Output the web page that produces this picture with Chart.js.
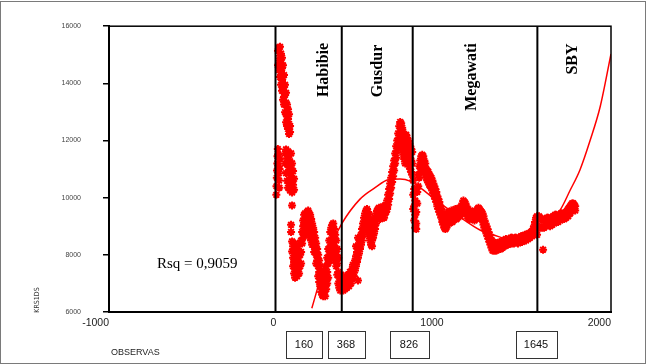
<!DOCTYPE html>
<html>
<head>
<meta charset="utf-8">
<script src="https://cdn.jsdelivr.net/npm/chart.js@4/dist/chart.umd.min.js"></script>
<style>
  html, body { margin: 0; padding: 0; background: #fff; }
  #wrap { position: relative; width: 650px; height: 364px; }
  #frame { position: absolute; left: 0; top: 1px; width: 646px; height: 363px; border: 1px solid #7a7a7a; box-sizing: border-box; pointer-events: none; }
  canvas { position: absolute; left: 0; top: 0; }
</style>
</head>
<body>
<div id="wrap"><canvas id="c" width="650" height="364"></canvas><div id="frame"></div></div>
<script>
// --- data ---
const xTicks = [-1000, 0, 1000, 2000];
const yTicks = [6000, 8000, 10000, 12000, 14000, 16000];

// borders between the presidencies (observation number)
const periodBounds = [-5, 391, 815, 1560];
const periodNames = ['Habibie', 'Gusdur', 'Megawati', 'SBY'];
const boxLabels = ['160', '368', '826', '1645'];

// fitted trend (polynomial) read along its path
const trendX = [212, 271, 321, 391, 500, 590, 669, 739, 799, 859, 959, 1098, 1217, 1297, 1397, 1486, 1558, 1616, 1695, 1755, 1815, 1875, 1936, 2000];
const trendY = [6130, 7320, 8240, 9090, 9950, 10350, 10630, 10650, 10580, 10350, 9890, 9320, 8870, 8700, 8540, 8560, 8800, 9150, 9560, 10250, 10980, 12000, 13200, 15030];

// observed rate, [obs, value]
const habibiePts = [
  [0,10100],[1,10400],[3,10700],[4,10950],[6,11200],[7,11450],[9,11700],[11,11500],[13,11100],[14,10850],[16,10600],[18,10350],[19,11000],[21,11350],
  [10,15140],[10,14630],[16,15250],[16,14800],[16,14460],[22,15280],[22,14970],[22,14560],[22,14220],
  [28,15040],[28,14700],[28,14290],[28,13950],[34,14900],[34,14530],[34,14120],[34,13740],
  [40,14630],[40,14220],[40,13780],[40,13430],[46,14290],[46,13880],[46,13530],[46,13260],
  [52,13950],[52,13600],[52,13260],[52,12990],[58,13670],[58,13330],[58,12920],[58,12640],
  [64,13260],[64,12850],[64,12510],[70,13090],[70,12750],[70,12400],[76,12920],[76,12580],[76,12230],[82,12510],[82,12300],
  [52,11550],[52,11200],[58,11690],[58,10860],[64,11380],[64,10590],[70,11620],[70,11140],[70,10350],
  [76,11480],[76,10930],[76,10520],[82,11270],[82,10790],[82,10250],[88,11550],[88,11030],[88,10590],
  [94,11200],[94,10690],[94,10180],[100,10930],[100,10450],[106,10660],[106,10280],[94,9730],
  [88,9050],[88,8800],[94,8470],[94,8120],[100,8300],[100,7900],[100,7600],[106,8150],[106,7750],[106,7350],
  [112,8400],[112,7950],[112,7500],[112,7200],[118,8200],[118,7800],[118,7400],[124,8000],[124,7650],[124,7250],
  [130,8300],[130,7900],[130,7500],[136,8100],[136,7700],[136,7350],[142,8400],[142,8000],[142,7600],
  [148,8500],[148,8100],[148,7700],[154,8800],[154,8400],[160,9000],[160,8600],
  [160,9200],[166,9400],[166,9000],[172,9450],[172,9100],[172,8700],[178,9350],[178,8950],
  [184,9500],[184,9150],[184,8800],[190,9550],[190,9250],[190,8900],[196,9450],[196,9100],[196,8750],
  [202,9400],[202,9000],[202,8600],[208,9250],[208,8850],[208,8500],[214,9100],[214,8700],[214,8350],
  [220,8950],[220,8550],[226,8800],[226,8400],[226,8100],[232,8600],[232,8200],
  [238,8400],[238,8000],[238,7700],[244,8200],[244,7800],[250,8000],[250,7600],[250,7250],
  [256,7800],[256,7400],[256,7050],[262,7600],[262,7200],[262,6900],[268,7400],[268,7000],[268,6700],
  [274,7200],[274,6850],[274,6600],[280,7300],[280,6900],[280,6550],[286,7100],[286,6700],
  [292,7400],[292,6950],[292,6550],[298,7600],[298,7200],[298,6800],[304,7900],[304,7400],[304,7000],
  [310,8200],[310,7700],[310,7200],[316,8500],[316,8000],[322,8800],[322,8300],[322,7800],
  [328,8950],[328,8500],[328,8000],[334,9050],[334,8600],[334,8150],[340,9100],[340,8700],[340,8250],
  [346,8900],[346,8450],[346,8000],[352,8700],[352,8250],[352,7800],[358,8500],[358,8000],[358,7600],
  [364,8200],[364,7700],[364,7300],[370,7900],[370,7400],[370,7000],
  [376,7200],[376,6850],[382,7000],[382,6750],[388,7300],[388,6900]
];
const gusdurPts = [
  [394,7100],[394,6800],[400,7000],[400,6750],[406,7200],[406,6900],
  [410,7100],[410,6800],[416,7250],[416,6900],[422,7150],[422,6850],[428,7300],[428,7000],[434,7200],[434,6900],
  [440,7400],[440,7100],[446,7300],[446,7000],[452,7500],[452,7150],[458,7650],[458,7300],[464,7550],[464,7250],
  [470,7800],[470,7450],[476,7950],[476,7600],[476,8300],[482,8100],[482,7750],[488,8250],[488,7900],[488,8600],[488,7100],
  [494,8400],[494,8050],[500,8550],[500,8200],
  [506,8700],[506,8350],[512,8900],[512,8500],[518,9100],[518,8700],[524,9300],[524,8900],[530,9450],[530,9050],
  [536,9550],[536,9200],[542,9600],[542,9250],[548,9500],[548,9150],[548,8800],[554,9400],[554,9000],[554,8650],
  [560,9250],[560,8850],[560,8500],[566,9050],[566,8650],[566,8350],[572,8900],[572,8500],[572,8300],
  [578,9000],[578,8600],[584,9150],[584,8750],[590,9300],[590,8900],[596,9450],[596,9100],[602,9550],[602,9250],
  [608,9600],[608,9300],[614,9650],[614,9350],[620,9550],[620,9250],[626,9600],[626,9300],[632,9650],[632,9350],
  [638,9700],[638,9400],[644,9600],[644,9300],[650,9700],[650,9450],[656,9750],[656,9500],[662,9900],[662,9600],
  [668,10100],[668,9750],[674,10300],[674,9950],
  [680,10500],[680,10150],[686,10700],[686,10350],[692,10900],[692,10550],[698,11100],[698,10750],[704,11300],[704,10950],[710,11550],[710,11200],
  [716,11800],[716,11400],[722,12000],[722,11650],[728,12250],[728,11850],[734,12500],[734,12100],
  [740,12650],[740,12300],[740,11900],[746,12600],[746,12200],[746,11800],[752,12450],[752,12050],[752,11650],
  [758,12300],[758,11900],[758,11500],[764,12150],[764,11750],[764,11350],[770,12000],[770,11600],[770,11200],
  [776,12200],[776,11800],[776,11400],[782,12100],[782,11700],[782,11300],[788,12000],[788,11600],[788,11200],
  [794,11900],[794,11500],[794,11100],[800,11800],[800,11400],[800,11000],[806,11700],[806,11300],[806,10900],
  [812,11600],[812,11200],[812,10800]
];
const megawatiPts = [
  [818,10600],[818,10100],[818,9600],[824,10300],[824,9700],[824,9200],[830,9900],[830,9400],[830,8950],
  [836,9500],[836,9100],[836,8900],[842,9800],[842,10200],[848,10400],[848,10800],[854,10700],[854,11100],[860,10900],[860,11300],
  [866,11100],[866,11450],[872,11500],[872,11150],[878,11450],[878,11050],[884,11300],[884,10900],[890,11200],[890,10800],
  [896,11000],[896,10700],[902,10950],[902,10600],[908,10900],[908,10550],[914,10800],[914,10450],
  [920,10750],[920,10400],[926,10700],[926,10350],[932,10600],[932,10250],[938,10500],[938,10150],[944,10400],[944,10050],
  [950,10300],[950,9950],[956,10200],[956,9850],[962,10050],[962,9700],[968,9950],[968,9600],[974,9850],[974,9500],
  [980,9700],[980,9400],[986,9600],[986,9300],[992,9450],[992,9150],
  [998,9400],[998,9050],[1004,9300],[1004,8950],[1010,9250],[1010,8900],[1016,9350],[1016,8950],[1022,9450],[1022,9050],
  [1028,9500],[1028,9150],[1034,9400],[1034,9100],[1040,9500],[1040,9200],[1046,9550],[1046,9250],[1052,9450],[1052,9150],[1058,9500],[1058,9200],
  [1064,9550],[1064,9250],[1070,9600],[1070,9300],[1076,9500],[1076,9250],[1082,9550],[1082,9300],[1088,9600],[1088,9350],
  [1094,9650],[1094,9400],[1100,9600],[1100,9350],[1106,9700],[1106,9450],[1112,9800],[1112,9550],[1118,9900],[1118,9600],
  [1124,9850],[1124,9600],[1130,9800],[1130,9550],[1136,9700],[1136,9450],[1142,9600],[1142,9350],
  [1148,9500],[1148,9300],[1154,9450],[1154,9250],[1160,9550],[1160,9300],[1166,9500],[1166,9250],[1172,9450],[1172,9250],
  [1178,9500],[1178,9300],[1184,9400],[1184,9200],[1190,9450],[1190,9250],[1196,9550],[1196,9350],[1202,9600],[1202,9400],
  [1208,9650],[1208,9400],[1214,9600],[1214,9350],[1220,9550],[1220,9300],[1226,9500],[1226,9250],[1232,9450],[1232,9200],
  [1238,9350],[1238,9050],[1244,9200],[1244,8950],[1250,9100],[1250,8850],[1256,9000],[1256,8750],[1262,8900],[1262,8650],
  [1268,8800],[1268,8550],[1274,8700],[1274,8450],[1280,8600],[1280,8350],
  [1286,8500],[1286,8250],[1292,8400],[1292,8150],[1298,8450],[1298,8150],[1304,8350],[1304,8150],[1310,8400],[1310,8150],
  [1316,8300],[1316,8150],[1322,8350],[1322,8200],[1328,8400],[1328,8200],[1334,8450],[1334,8250],[1340,8400],[1340,8200],
  [1346,8450],[1346,8250],[1352,8450],[1352,8250],[1358,8500],[1358,8300],[1364,8500],[1364,8300],
  [1372,8550],[1372,8350],[1378,8500],[1384,8500],[1384,8350],[1390,8550],[1396,8550],[1396,8400],[1402,8600],
  [1408,8600],[1408,8400],[1414,8550],[1420,8550],[1420,8400],[1426,8600],[1432,8600],[1432,8450],[1438,8550],
  [1444,8550],[1444,8400],[1450,8600],[1456,8600],[1456,8450],[1462,8650],[1468,8650],[1468,8450],[1474,8650],
  [1480,8650],[1480,8500],[1486,8700],[1492,8700],[1492,8500],[1498,8700],[1504,8700],[1504,8550],[1510,8750],
  [1516,8750],[1516,8600],[1522,8800],[1528,8800],[1528,8650],
  [1534,8900],[1534,8700],[1540,9000],[1540,8750],[1546,9150],[1546,8800],[1552,9300],[1552,8900],[1558,9350],[1558,9000],[1558,8700]
];
const sbyPts = [
  [1564,9300],[1564,8950],[1570,9350],[1570,9000],[1576,9300],[1576,8950],[1582,9250],[1588,9250],[1588,8950],
  [1594,8180],[1594,9200],[1600,9200],[1600,8950],[1606,9250],[1612,9250],[1612,9000],[1618,9300],[1624,9300],[1624,9050],
  [1630,9250],[1636,9250],[1636,9000],[1642,9300],[1648,9300],[1648,9050],[1654,9350],[1660,9350],[1660,9100],
  [1666,9400],[1672,9400],[1672,9150],[1678,9350],[1684,9350],[1684,9150],[1690,9400],[1696,9400],[1696,9200],
  [1702,9450],[1708,9450],[1708,9250],[1714,9400],[1720,9400],[1720,9250],[1726,9450],[1732,9500],[1732,9300],
  [1738,9550],[1744,9600],[1744,9350],[1750,9650],[1756,9700],[1756,9450],[1762,9750],[1768,9800],[1768,9550],
  [1774,9800],[1774,9650],[1780,9750],[1780,9600],[1786,9700],[1786,9550]
];

const RED = '#ff0000';
const kursPts = habibiePts.concat(gusdurPts, megawatiPts, sbyPts).map(p => ({ x: p[0], y: p[1] }));
const trendPts = trendX.map((x, i) => ({ x, y: trendY[i] }));
const yMin = yTicks[0], yMax = yTicks[yTicks.length - 1];

const boundSets = periodBounds.map(b => ({
  type: 'line',
  data: [{ x: b, y: yMin }, { x: b, y: yMax }],
  borderColor: '#000',
  borderWidth: 2,
  pointRadius: 0,
  clip: false
}));

// texts, boxes and the plot frame
const annot = {
  id: 'annot',
  afterDraw(chart) {
    const { ctx, chartArea: a } = chart;
    ctx.save();
    ctx.strokeStyle = '#000';
    ctx.lineWidth = 1.5;
    ctx.strokeRect(a.left, a.top, a.right - a.left, a.bottom - a.top);

    // period names, rotated
    const namePos = [[324, 70], [378, 71], [472, 77], [573, 59]];
    ctx.fillStyle = '#000';
    ctx.font = 'bold 16px "Liberation Serif", "Times New Roman", serif';
    ctx.textAlign = 'center';
    ctx.textBaseline = 'middle';
    periodNames.forEach((n, i) => {
      ctx.save();
      ctx.translate(namePos[i][0], namePos[i][1]);
      ctx.rotate(-Math.PI / 2);
      ctx.fillText(n, 0, 0);
      ctx.restore();
    });

    ctx.font = '15px "Liberation Serif", "Times New Roman", serif';
    ctx.textAlign = 'left';
    ctx.fillText('Rsq = 0,9059', 157, 264);

    // boxes under the axis
    const boxX = [304, 346, 409, 536];
    const boxW = [36, 37, 39, 41];
    ctx.font = '11px "Liberation Sans", Arial, sans-serif';
    ctx.textAlign = 'center';
    ctx.lineWidth = 1;
    ctx.strokeStyle = '#333';
    boxLabels.forEach((t, i) => {
      ctx.strokeRect(Math.round(boxX[i] - boxW[i] / 2) + 0.5, 331.5, boxW[i], 27);
      ctx.fillStyle = '#111';
      ctx.fillText(t, boxX[i], 345);
    });

    ctx.font = '9px "Liberation Sans", Arial, sans-serif';
    ctx.textAlign = 'left';
    ctx.fillStyle = '#222';
    ctx.fillText('OBSERVAS', 111, 353);

    ctx.save();
    ctx.translate(37, 300);
    ctx.rotate(-Math.PI / 2);
    ctx.font = '7px "DejaVu Sans Condensed", "Liberation Sans", sans-serif';
    ctx.textAlign = 'center';
    ctx.fillStyle = '#333';
    ctx.fillText('KRS1DS', 0, 0);
    ctx.restore();
    ctx.restore();
  }
};

new Chart(document.getElementById('c'), {
  type: 'scatter',
  data: {
    datasets: boundSets.concat([
      {
        type: 'line',
        data: trendPts,
        borderColor: RED,
        borderWidth: 1.5,
        pointRadius: 0,
        cubicInterpolationMode: 'monotone'
      },
      {
        data: kursPts,
        pointStyle: 'star',
        pointRadius: 4,
        borderColor: RED,
        backgroundColor: RED,
        borderWidth: 2
      }
    ])
  },
  options: {
    responsive: false,
    animation: false,
    layout: { padding: { left: 0, top: 20, right: 39, bottom: 0 } },
    plugins: { legend: { display: false }, tooltip: { enabled: false } },
    scales: {
      x: {
        type: 'linear',
        min: xTicks[0],
        max: xTicks[xTicks.length - 1],
        afterBuildTicks: s => { s.ticks = xTicks.map(v => ({ value: v })); },
        ticks: { align: 'end', callback: v => String(v), font: { family: '"Liberation Sans", Arial, sans-serif', size: 10.5 }, color: '#222', padding: 5 },
        grid: { drawOnChartArea: false, drawTicks: false },
        border: { color: '#000', width: 2 },
        afterFit: s => { s.height = 52; }
      },
      y: {
        min: yMin,
        max: yMax,
        afterBuildTicks: s => { s.ticks = yTicks.map(v => ({ value: v })); },
        ticks: { callback: v => String(v), font: { family: '"Liberation Sans", Arial, sans-serif', size: 7 }, color: '#444', padding: 22 },
        grid: { drawOnChartArea: false, tickLength: 6, color: '#000', lineWidth: 1.5 },
        border: { color: '#000', width: 2 },
        afterFit: s => { s.width = 109; }
      }
    }
  },
  plugins: [annot]
});
</script>
</body>
</html>
